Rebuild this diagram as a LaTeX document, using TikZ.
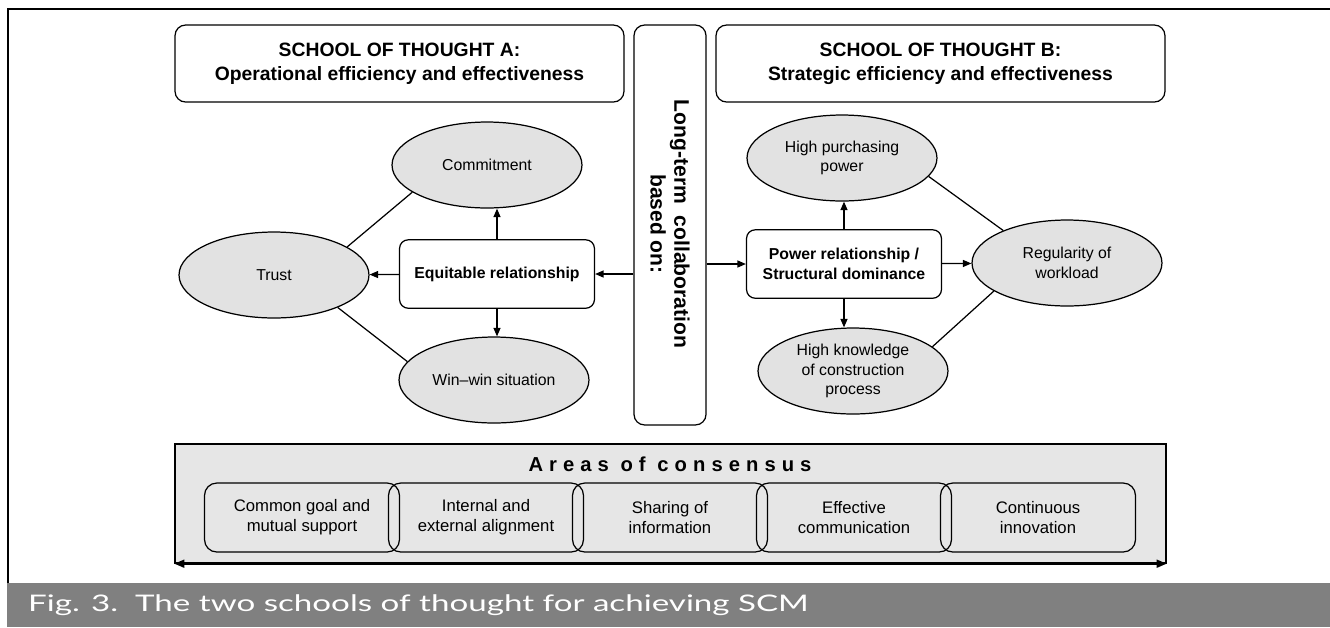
\documentclass[tikz,border=0pt]{standalone}
\usepackage{fontspec}
\setmainfont{Liberation Sans}
\newfontfamily\capfont[FakeStretch=1.45]{Lato}
\newfontfamily\spacedfont[LetterSpace=30]{Liberation Sans}
\usetikzlibrary{arrows.meta,shapes.geometric}

\definecolor{ovalgray}{HTML}{E2E2E2}
\definecolor{panelgray}{HTML}{E6E6E6}
\definecolor{bargray}{HTML}{808080}

\tikzset{
  schoolbox/.style={draw, rounded corners=6pt, line width=0.7pt,
    minimum width=8.98cm, minimum height=1.54cm, align=center,
    font=\bfseries\fontsize{11}{13.8}\selectfont},
  oval/.style={ellipse, draw, fill=ovalgray, line width=0.7pt, inner sep=0pt,
    minimum width=3.8cm, minimum height=1.72cm, align=center,
    font=\fontsize{9}{11}\selectfont},
  relbox/.style={draw, rounded corners=5pt, line width=0.7pt, fill=white,
    minimum width=3.9cm, minimum height=1.37cm, align=center,
    font=\bfseries\fontsize{9}{11}\selectfont},
  areabox/.style={draw, rounded corners=7pt, line width=0.7pt,
    minimum width=3.9cm, minimum height=1.38cm, align=center,
    font=\fontsize{9.5}{11.3}\selectfont},
  arr/.style={-{Triangle[length=1.7mm,width=1.4mm]}, line width=0.7pt},
}

\begin{document}
\begin{tikzpicture}[x=0.02cm, y=-0.02cm]
  \useasboundingbox (0,0) rectangle (1330,627);

  % frame and caption bar
  \draw[line width=1.5pt] (1330,9) -- (8,9) -- (8,583);
  \node[fill=bargray, inner sep=0pt, minimum width=26.46cm, minimum height=0.88cm] (capbar) at (668.5,605) {};
  \node[anchor=west, text=white, font=\capfont\fontsize{13}{15}\selectfont] (cap) at (22,605)
    {Fig. 3.\ \ The two schools of thought for achieving SCM};

  % headers
  \node[schoolbox] (schoolA) at (399.5,63.5) {SCHOOL OF THOUGHT A:\\Operational efficiency and effectiveness};
  \node[schoolbox] (schoolB) at (940.5,63.5) {SCHOOL OF THOUGHT B:\\Strategic efficiency and effectiveness};

  % middle column
  \node[draw, rounded corners=6pt, line width=0.7pt, minimum width=1.44cm, minimum height=8cm] (mid) at (670,225) {};
  \node[rotate=-90, align=center, font=\bfseries\fontsize{12}{13.5}\selectfont] (midtxt) at (670,224)
    {Long-term\ \ collaboration\\based on:};

  \begin{scope}[every node/.style={oval}]
    \node (commit) at (487,165) {Commitment};
    \node (trust)  at (274,275) {Trust};
    \node (winwin) at (494,380) {Win--win situation};
    \node (hpp)    at (842,158) {High purchasing\\power};
    \node (reg)    at (1067,263) {Regularity of\\workload};
    \node (hk)     at (853,371) {High knowledge\\of construction\\process};
  \end{scope}

  \begin{scope}[every node/.style={relbox}]
    \node (equit) at (497,274) {Equitable relationship};
    \node (power) at (844,264) {Power relationship /\\Structural dominance};
  \end{scope}

  % arrows
  \draw[arr] (mid.west |- equit) -- (equit);
  \draw[arr] (equit) -- (trust);
  \draw[arr] (equit.north) -- (equit.north |- commit.south);
  \draw[arr] (equit.south) -- (equit.south |- winwin.north);
  \draw[arr] (mid.east |- power) -- (power);
  \draw[arr] (power) -- (reg);
  \draw[arr] (power.north) -- (power.north |- hpp.south);
  \draw[arr] (power.south) -- (power.south |- hk.north);

  \begin{scope}[line width=0.7pt]
    \path (trust.21)  edge (commit.200);
    \path (trust.333) edge (winwin.168);
    \path (hpp.348)   edge (reg.153);
    \path (reg.201)   edge (hk.17);
  \end{scope}

  % areas of consensus
  \node[draw, fill=panelgray, line width=0.8pt, minimum width=19.82cm, minimum height=2.38cm] (panel) at (670.5,503.5) {};
  \draw[{Triangle[length=2mm,width=1.6mm]}-{Triangle[length=2mm,width=1.6mm]}, line width=1pt]
    (panel.south west) -- (panel.south east);
  \node[font=\spacedfont\bfseries\fontsize{11.5}{13}\selectfont] (areas) at (670,464) {Areas of consensus};

  \begin{scope}[every node/.style={areabox}]
    \node (goal)  at (302,517.5)  {Common goal and\\mutual support};
    \node (align) at (486,517.5)  {Internal and\\external alignment};
    \node (share) at (670,517.5)  {Sharing of\\information};
    \node (comm)  at (854,517.5)  {Effective\\communication};
    \node (innov) at (1038,517.5) {Continuous\\innovation};
  \end{scope}

\end{tikzpicture}
\end{document}
